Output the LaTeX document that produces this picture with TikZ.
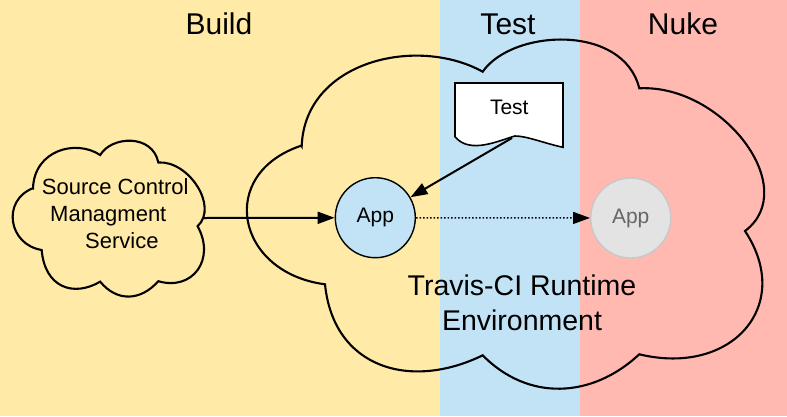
\documentclass[tikz,border=0pt]{standalone}
\usepackage{fontspec}
\setmainfont{Liberation Sans}
\usepackage{tikz}
\usetikzlibrary{arrows.meta}

\definecolor{buildyellow}{HTML}{FFEAA7}
\definecolor{testblue}{HTML}{C2E3F5}
\definecolor{nukered}{HTML}{FFB9B0}
\definecolor{appgrey}{HTML}{E3E3E3}
\definecolor{appedge}{HTML}{C8C8C8}
\definecolor{apptext}{HTML}{666666}

\tikzstyle{title} = [anchor=base, font=\fontsize{30}{36}\selectfont]
\tikzstyle{app} = [circle, minimum size=80pt, inner sep=0pt, draw=black, line width=1.4pt, fill=testblue, font=\fontsize{21}{25}\selectfont]
\tikzstyle{oldapp} = [app, draw=appedge, fill=appgrey, text=apptext]
\tikzstyle{doc} = [draw=black, fill=white, line width=1.6pt, line join=miter]
\tikzstyle{cloudline} = [draw=black, line width=2.1pt, line join=miter]
\tikzstyle{arrow} = [line width=2pt, ->, >={Triangle[length=17pt, width=12pt]}]
\tikzstyle{dotarrow} = [arrow, line width=1.5pt, dotted]

% cloud outline in a box: left, top, width, height
\newcommand{\cloudoutline}[4]{%
  \draw [cloudline, shift={(#1,#2)}, xscale=#3, yscale=#4]
    (0.1056,0.3077) .. controls (0.1120,0.0655) and (0.3282,-0.0077) .. (0.4550,0.0960)
    .. controls (0.5122,-0.0254) and (0.7263,-0.0419) .. (0.7573,0.1433)
    .. controls (0.9170,0.1311) and (1.0714,0.4274) .. (0.9614,0.5499)
    .. controls (1.0569,0.7627) and (0.9351,0.9647) .. (0.7573,0.9011)
    .. controls (0.6658,1.0271) and (0.5429,1.0356) .. (0.4550,0.9040)
    .. controls (0.3160,1.0043) and (0.1670,0.9416) .. (0.1506,0.7017)
    .. controls (-0.0214,0.6684) and (-0.0595,0.3872) .. cycle;}

\begin{document}
\begin{tikzpicture}[x=1pt, y=-1pt]

\useasboundingbox (0,0) rectangle (787,416);

%% lanes
\fill [buildyellow] (0,0) rectangle (440,416);
\fill [testblue] (440,0) rectangle (580,416);
\fill [nukered] (580,0) rectangle (787,416);

\node (buildtitle) [title] at (219,34) {Build};
\node (testtitle) [title] at (508,34) {Test};
\node (nuketitle) [title] at (683,34) {Nuke};

%% clouds
\cloudoutline{12.7}{140}{192.3}{156.7}
\cloudoutline{247}{38}{518}{351}

\node (scm) [anchor=north west, inner sep=0pt, align=left, font=\fontsize{22}{27}\selectfont] at (41.7,178.3) {Source Control\\\hspace*{8.3pt}Managment\\\hspace*{43.3pt}Service};
\node (runtime) [align=center, inner sep=0pt, font=\fontsize{28.5}{35}\selectfont] at (522,303.3) {Travis-CI Runtime\\Environment};

%% test document
\draw [doc] (455,83) -- (563,83) -- (563,147.3) .. controls (545,143.5) and (527,136) .. (515,136) .. controls (500,140) and (470,155) .. (455,136.7) -- cycle;
\node (testdoc) [anchor=base, font=\fontsize{21}{25}\selectfont] at (509.3,114.3) {Test};
\coordinate (testout) at (512,138);

\node (app) [app] at (375.3,217.7) {App};
\node (oldapp) [oldapp] at (630.7,218) {App};
\coordinate (scmout) at (203,218);

%% arrows
\draw [arrow] (scmout) -- (app);
\draw [arrow] (testout) -- (app);
\draw [dotarrow] (app) -- (oldapp);

\end{tikzpicture}
\end{document}
